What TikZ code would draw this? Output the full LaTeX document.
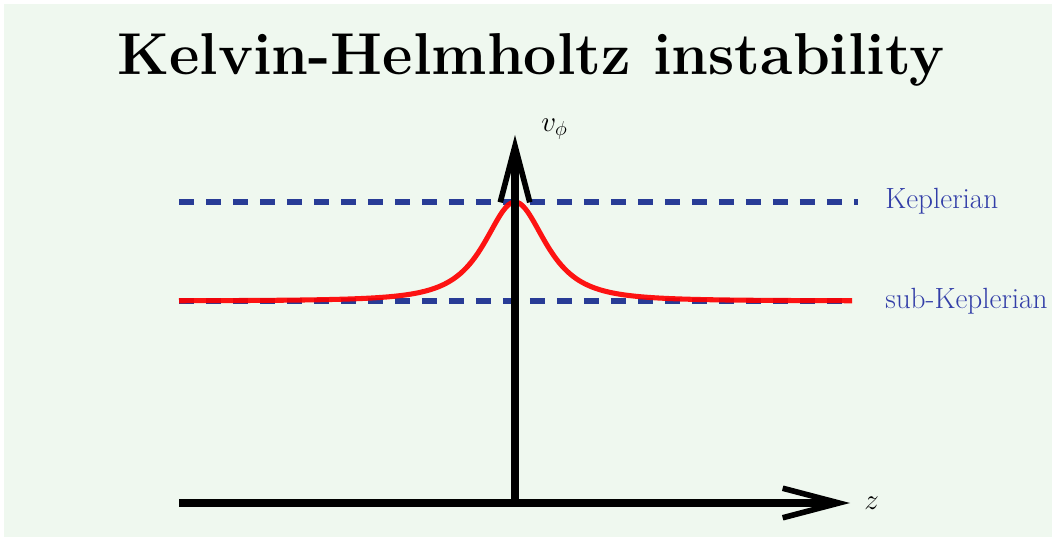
\documentclass[tikz,border=0pt]{standalone}
\usepackage{amsmath}
\usepackage{tikz}
\usetikzlibrary{arrows.meta,positioning}
\definecolor{paleleaf}{RGB}{239,248,239}
\definecolor{dashblue}{RGB}{40,60,150}
\definecolor{labelblue}{RGB}{50,62,168}
\definecolor{peakred}{RGB}{255,0,0}
\colorlet{figink}{black}
\colorlet{figplane}{paleleaf}

\begin{document}
\begin{tikzpicture}[
  x=0.025cm, y=0.025cm,
  font=\fontsize{20.8}{25}\selectfont,
  axis/.style={figink, line width=5pt, -{Straight Barb[length=40pt, width=21pt, line width=4pt]}},
  level/.style={dashblue, line width=4.2pt, dash pattern=on 11pt off 8.2pt},
  lvllabel/.style={text=labelblue, anchor=west, inner sep=0pt},
]
  \useasboundingbox (0,0) rectangle (1052,540);
  \fill[figplane] (4,3) rectangle (1052,536);

  \coordinate (O) at (515,37);
  \coordinate (Zleft) at (179,37);
  \coordinate (Ztip) at (850,37);
  \coordinate (Vtip) at (515,405);
  \def\base{239}
  \def\peak{338}

  % reference velocities
  \foreach \yy/\xe/\name in {\peak/858/kep, \base/852/sub} {
    \coordinate (\name L) at (179,\yy);
    \coordinate (\name R) at (\xe,\yy);
    \draw[level] (\name L) -- (\name R);
  }

  % velocity profile
  \draw[peakred, opacity=0.92, line width=3.6pt, line join=round]
    plot[domain=179:852, samples=240]
    (\x, {\base + (\peak-\base)/(1+((\x-515)/47)^2)^1.5});

  % axes
  \draw[axis] (Zleft) -- (Ztip);
  \draw[axis] (O) -- (Vtip);

  \node[anchor=west, inner sep=0pt] (zlab) at (864,37) {$z$};
  \node[anchor=west, inner sep=0pt] (vlab) at (541,411) {$v_\phi$};
  \node[lvllabel] (keplab) at (885,339) {Keplerian};
  \node[lvllabel] (sublab) at (885,239) {sub-Keplerian};

  \node[font=\fontsize{42}{50}\bfseries, anchor=base] (title) at (531,465)
    {Kelvin-Helmholtz instability};
\end{tikzpicture}
\end{document}
